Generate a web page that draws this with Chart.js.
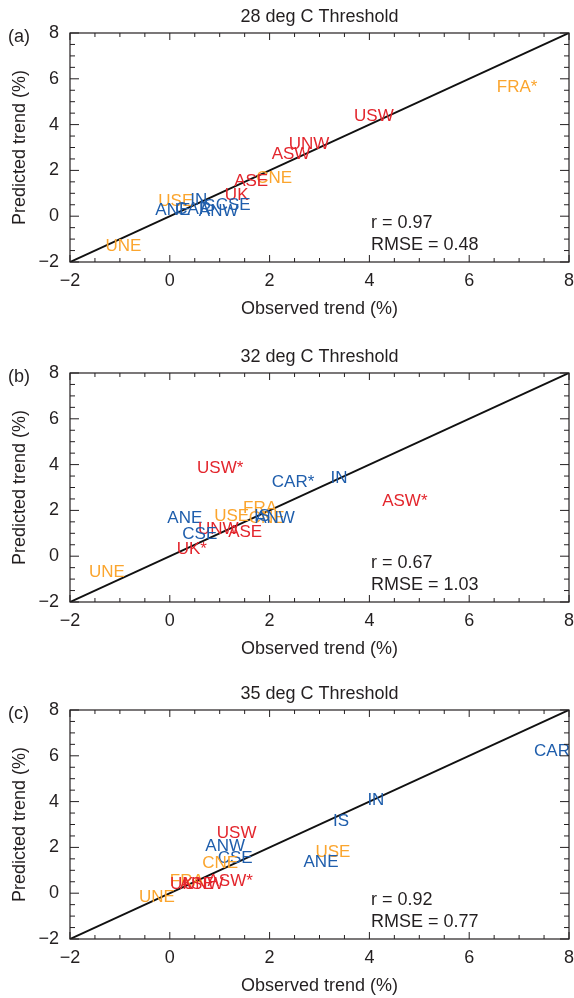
<!DOCTYPE html>
<html>
<head>
<meta charset="utf-8">
<script src="https://cdn.jsdelivr.net/npm/chart.js@4.4.1/dist/chart.umd.min.js"></script>
<style>
  body { margin: 0; background: #fff; width: 574px; height: 998px; position: relative; overflow: hidden; }
  canvas { position: absolute; left: 0; }
</style>
</head>
<body>
<canvas id="chartA" width="574" height="321" style="top:0px"></canvas>
<canvas id="chartB" width="574" height="321" style="top:340px"></canvas>
<canvas id="chartC" width="574" height="321" style="top:677px"></canvas>
<script>
// axis ticks (both axes share the same range)
const tickMin = -2;
const tickMax = 8;
const tickStep = 2;
const minorStep = 0.5;

// which group each region belongs to (colour)
const orangeRegions = ['FRA', 'CNE', 'USE', 'UNE'];
const redRegions = ['USW', 'UNW', 'ASW', 'ASE', 'UK'];
const blueRegions = ['IN', 'CSE', 'ANE', 'CAR', 'IS', 'ANW'];

// (a) 28 deg C
const namesA = ['FRA*', 'USW', 'UNW', 'ASW', 'CNE', 'ASE', 'UK', 'USE', 'IN', 'CAR', 'IS', 'ANE', 'CSE', 'ANW', 'UNE'];
const observedA = [6.96, 4.09, 2.79, 2.43, 2.09, 1.63, 1.34, 0.12, 0.58, 0.47, 0.75, 0.06, 1.27, 0.98, -0.93];
const predictedA = [5.64, 4.38, 3.15, 2.72, 1.67, 1.54, 0.93, 0.67, 0.70, 0.30, 0.45, 0.27, 0.49, 0.22, -1.33];

// (b) 32 deg C
const namesB = ['USW*', 'CAR*', 'IN', 'ASW*', 'ANE', 'USE', 'FRA', 'CNE', 'IS', 'ANW', 'UNW', 'ASE', 'CSE', 'UK*', 'UNE'];
const observedB = [1.01, 2.47, 3.39, 4.71, 0.30, 1.24, 1.81, 1.94, 1.85, 2.11, 0.97, 1.51, 0.60, 0.44, -1.26];
const predictedB = [3.85, 3.21, 3.42, 2.40, 1.64, 1.74, 2.11, 1.67, 1.72, 1.64, 1.16, 1.05, 0.96, 0.28, -0.72];

// (c) 35 deg C
const namesC = ['CAR', 'IN', 'IS', 'USE', 'ANE', 'USW', 'ANW', 'CSE', 'CNE', 'FRA', 'UK', 'ASE', 'UNW', 'ASW*', 'UNE'];
const observedC = [7.66, 4.13, 3.43, 3.27, 3.03, 1.34, 1.11, 1.31, 1.01, 0.34, 0.24, 0.54, 0.67, 1.21, -0.26];
const predictedC = [6.20, 4.05, 3.13, 1.77, 1.33, 2.62, 2.04, 1.52, 1.30, 0.54, 0.37, 0.37, 0.40, 0.51, -0.16];

// one-to-one line
const diagonal = [tickMin, tickMax];

const ORANGE = '#FBA52E';
const RED = '#E3262D';
const BLUE = '#1F5EAC';
const INK = '#231f20';
const FONT = '"Liberation Sans", Arial, sans-serif';

function regionColor(name) {
    const base = name.replace('*', '');
    if (orangeRegions.includes(base)) return ORANGE;
    if (redRegions.includes(base)) return RED;
    return BLUE;
}

// frame, inward ticks, title, region labels and stats
const panelPlugin = {
    id: 'panel',
    afterDatasetsDraw(chart, args, opts) {
        const ctx = chart.ctx;
        const area = chart.chartArea;
        const xs = chart.scales.x;
        const ys = chart.scales.y;

        ctx.save();
        // region names
        const meta = chart.getDatasetMeta(1);
        ctx.font = '17px ' + FONT;
        ctx.textAlign = 'center';
        ctx.textBaseline = 'middle';
        meta.data.forEach((pt, i) => {
            const name = opts.names[i];
            ctx.fillStyle = regionColor(name);
            ctx.fillText(name, pt.x, pt.y);
        });

        // frame
        ctx.strokeStyle = INK;
        ctx.lineWidth = 1.2;
        ctx.strokeRect(area.left, area.top, area.right - area.left, area.bottom - area.top);

        // ticks pointing inward on all sides
        ctx.lineWidth = 1;
        ctx.beginPath();
        for (let v = tickMin; v <= tickMax + 1e-9; v += minorStep) {
            const major = Math.abs(v / tickStep - Math.round(v / tickStep)) < 1e-6;
            const lx = major ? 7 : 4;
            const ly = major ? 9 : 5;
            const px = xs.getPixelForValue(v);
            ctx.moveTo(px, area.bottom); ctx.lineTo(px, area.bottom - lx);
            ctx.moveTo(px, area.top); ctx.lineTo(px, area.top + lx);
            const py = ys.getPixelForValue(v);
            ctx.moveTo(area.left, py); ctx.lineTo(area.left + ly, py);
            ctx.moveTo(area.right, py); ctx.lineTo(area.right - ly, py);
        }
        ctx.stroke();

        // title and panel tag
        ctx.fillStyle = INK;
        ctx.font = '18px ' + FONT;
        ctx.textAlign = 'center';
        ctx.fillText(opts.title, (area.left + area.right) / 2, area.top - 16);
        ctx.textAlign = 'left';
        ctx.fillText(opts.tag, 8, area.top + 4);

        // statistics
        const sx = xs.getPixelForValue(4.03);
        ctx.fillText('r = ' + opts.r, sx, ys.getPixelForValue(-0.3));
        ctx.fillText('RMSE = ' + opts.rmse, sx, ys.getPixelForValue(-1.26));
        ctx.restore();
    }
};

function tickLabel(value) {
    return String(value).replace('-', '\u2212');
}

function makeChart(id, title, tag, names, observed, predicted, r, rmse) {
    const ctx = document.getElementById(id).getContext('2d');
    return new Chart(ctx, {
        type: 'scatter',
        data: {
            datasets: [{
                type: 'line',
                data: diagonal.map(v => ({x: v, y: v})),
                borderColor: '#111',
                borderWidth: 2,
                pointRadius: 0,
                fill: false
            }, {
                data: observed.map((v, i) => ({x: v, y: predicted[i]})),
                pointRadius: 0,
                showLine: false
            }]
        },
        options: {
            responsive: false,
            animation: false,
            layout: {padding: {top: 33, right: 5, left: 0, bottom: 0}},
            plugins: {
                legend: {display: false},
                tooltip: {enabled: false},
                panel: {title: title, tag: tag, names: names, r: r, rmse: rmse}
            },
            scales: {
                x: {
                    type: 'linear',
                    min: tickMin,
                    max: tickMax,
                    grid: {display: false, drawTicks: false},
                    border: {display: false},
                    ticks: {
                        stepSize: tickStep,
                        padding: 8,
                        color: INK,
                        maxRotation: 0,
                        font: {family: FONT, size: 18},
                        callback: tickLabel
                    },
                    title: {
                        display: true,
                        text: 'Observed trend (%)',
                        color: INK,
                        padding: {top: 0, bottom: 1},
                        font: {family: FONT, size: 18}
                    },
                    afterFit(scale) {
                        scale.height = 59;
                        scale.paddingLeft = 0;
                        scale.paddingRight = 0;
                    }
                },
                y: {
                    type: 'linear',
                    min: tickMin,
                    max: tickMax,
                    grid: {display: false, drawTicks: false},
                    border: {display: false},
                    ticks: {
                        stepSize: tickStep,
                        padding: 11,
                        color: INK,
                        font: {family: FONT, size: 18},
                        callback: tickLabel
                    },
                    title: {
                        display: true,
                        text: 'Predicted trend (%)',
                        color: INK,
                        padding: {top: 9, bottom: 0},
                        font: {family: FONT, size: 18}
                    },
                    afterFit(scale) {
                        scale.width = 70;
                        scale.paddingTop = 0;
                        scale.paddingBottom = 0;
                    }
                }
            }
        },
        plugins: [panelPlugin]
    });
}

makeChart('chartA', '28 deg C Threshold', '(a)', namesA, observedA, predictedA, '0.97', '0.48');
makeChart('chartB', '32 deg C Threshold', '(b)', namesB, observedB, predictedB, '0.67', '1.03');
makeChart('chartC', '35 deg C Threshold', '(c)', namesC, observedC, predictedC, '0.92', '0.77');
</script>
</body>
</html>
